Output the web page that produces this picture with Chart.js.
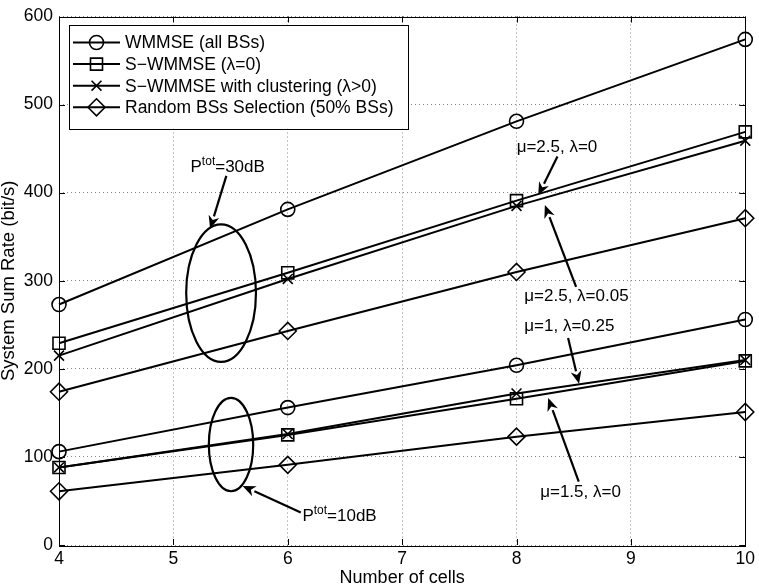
<!DOCTYPE html>
<html>
<head>
<meta charset="utf-8">
<script src="https://cdn.jsdelivr.net/npm/chart.js@4"></script>
<style>
  html, body { margin: 0; padding: 0; background: #fff; }
  #wrap { width: 759px; height: 588px; }
</style>
</head>
<body>
<div id="wrap"><canvas id="rateChart" width="759" height="588"></canvas></div>
<script>
// data
const cells = [4, 6, 8, 10];
const xTicks = [4, 5, 6, 7, 8, 9, 10];
const yTicks = [0, 100, 200, 300, 400, 500, 600];

const wmmse30 = [273, 381, 481, 574];
const swmmse30 = [229, 309, 391, 469];
const cluster30 = [215, 302, 385, 459];
const random30 = [174, 243, 310, 371];

const wmmse10 = [106, 156, 204, 256];
const swmmse10 = [88, 125, 166, 209];
const cluster10 = [88, 126, 172, 210];
const random10 = [61, 91, 123, 151];

const seriesNames = ['WMMSE (all BSs)', 'S\u2212WMMSE (\u03bb=0)', 'S\u2212WMMSE with clustering (\u03bb>0)', 'Random BSs Selection (50% BSs)'];

const FONT = 'Liberation Sans, Arial, Helvetica, sans-serif';

const markers = [
    { style: 'circle', r: 7 },
    { style: 'rect', r: 8.5 },
    { style: 'crossRot', r: 7 },
    { style: 'rectRot', r: 8.5 }
];

function toPoints(vals) {
    return vals.map((v, i) => ({ x: cells[i], y: v }));
}

function makeSet(vals, k, withLabel) {
    return {
        label: withLabel ? seriesNames[k] : '',
        data: toPoints(vals),
        borderColor: '#000',
        borderWidth: 2,
        tension: 0,
        fill: false,
        clip: false,
        pointStyle: markers[k].style,
        pointRadius: markers[k].r,
        pointHoverRadius: markers[k].r,
        pointBorderColor: '#000',
        pointBackgroundColor: 'rgba(0,0,0,0)',
        pointBorderWidth: 1.6
    };
}

// annotation geometry in data units
const ellipses = [
    { cx: 5.417, cy: 286, rx: 0.305, ry: 78 },
    { cx: 5.504, cy: 114, rx: 0.194, ry: 53 }
];
const arrows = [
    { x1: 5.463, y1: 419, x2: 5.321, y2: 359 },
    { x1: 8.358, y1: 441, x2: 8.190, y2: 397 },
    { x1: 8.521, y1: 293, x2: 8.248, y2: 386 },
    { x1: 8.451, y1: 235, x2: 8.547, y2: 183 },
    { x1: 8.544, y1: 72, x2: 8.277, y2: 167 },
    { x1: 6.114, y1: 37, x2: 5.605, y2: 67 }
];
const notes = [
    { x: 8.001, y: 446.5, text: '\u03bc=2.5, \u03bb=0' },
    { x: 8.068, y: 277.3, text: '\u03bc=2.5, \u03bb=0.05' },
    { x: 8.068, y: 242.4, text: '\u03bc=1, \u03bb=0.25' },
    { x: 8.207, y: 54.6, text: '\u03bc=1.5, \u03bb=0' }
];
const powerNotes = [
    { x: 5.150, y: 423.2, rest: '=30dB' },
    { x: 6.128, y: 27.8, rest: '=10dB' }
];

function drawMarker(ctx, style, x, y, r) {
    ctx.beginPath();
    if (style === 'circle') {
        ctx.arc(x, y, r, 0, Math.PI * 2);
    } else if (style === 'rect') {
        const s = r * Math.SQRT1_2;
        ctx.rect(x - s, y - s, 2 * s, 2 * s);
    } else if (style === 'crossRot') {
        const s = r * Math.SQRT1_2;
        ctx.moveTo(x - s, y - s); ctx.lineTo(x + s, y + s);
        ctx.moveTo(x - s, y + s); ctx.lineTo(x + s, y - s);
    } else if (style === 'rectRot') {
        ctx.moveTo(x, y - r); ctx.lineTo(x + r, y); ctx.lineTo(x, y + r); ctx.lineTo(x - r, y); ctx.closePath();
    }
    ctx.stroke();
}

const matlabFrame = {
    id: 'matlabFrame',
    afterDatasetsDraw(chart) {
        const ctx = chart.ctx;
        const a = chart.chartArea;
        const xs = chart.scales.x, ys = chart.scales.y;
        ctx.save();
        ctx.strokeStyle = '#000';
        ctx.lineWidth = 1;
        // box
        ctx.strokeRect(Math.round(a.left) + 0.5, Math.round(a.top) + 0.5, Math.round(a.right - a.left), Math.round(a.bottom - a.top));
        // inward ticks on all sides
        const tl = 6;
        ctx.beginPath();
        xs.ticks.forEach(t => {
            const px = Math.round(xs.getPixelForValue(t.value)) + 0.5;
            ctx.moveTo(px, a.bottom); ctx.lineTo(px, a.bottom - tl);
            ctx.moveTo(px, a.top); ctx.lineTo(px, a.top + tl);
        });
        ys.ticks.forEach(t => {
            const py = Math.round(ys.getPixelForValue(t.value)) + 0.5;
            ctx.moveTo(a.left, py); ctx.lineTo(a.left + tl, py);
            ctx.moveTo(a.right, py); ctx.lineTo(a.right - tl, py);
        });
        ctx.stroke();

        // ellipses
        ctx.lineWidth = 2.2;
        ellipses.forEach(e => {
            const cx = xs.getPixelForValue(e.cx), cy = ys.getPixelForValue(e.cy);
            const rx = Math.abs(xs.getPixelForValue(e.cx + e.rx) - cx);
            const ry = Math.abs(ys.getPixelForValue(e.cy + e.ry) - cy);
            ctx.beginPath();
            ctx.ellipse(cx, cy, rx, ry, 0, 0, Math.PI * 2);
            ctx.stroke();
        });

        // arrows
        ctx.fillStyle = '#000';
        arrows.forEach(ar => {
            const x1 = xs.getPixelForValue(ar.x1), y1 = ys.getPixelForValue(ar.y1);
            const x2 = xs.getPixelForValue(ar.x2), y2 = ys.getPixelForValue(ar.y2);
            const ang = Math.atan2(y2 - y1, x2 - x1);
            const hl = 13, hw = 5.5;
            const bx = x2 - hl * Math.cos(ang), by = y2 - hl * Math.sin(ang);
            ctx.lineWidth = 2.2;
            ctx.beginPath();
            ctx.moveTo(x1, y1); ctx.lineTo(bx, by);
            ctx.stroke();
            ctx.beginPath();
            ctx.moveTo(x2, y2);
            ctx.lineTo(bx + hw * Math.sin(ang), by - hw * Math.cos(ang));
            ctx.lineTo(x2 - (hl * 0.7) * Math.cos(ang), y2 - (hl * 0.7) * Math.sin(ang));
            ctx.lineTo(bx - hw * Math.sin(ang), by + hw * Math.cos(ang));
            ctx.closePath();
            ctx.fill();
        });

        // text notes
        ctx.textBaseline = 'alphabetic';
        ctx.textAlign = 'left';
        ctx.font = '17px ' + FONT;
        notes.forEach(n => {
            ctx.fillText(n.text, xs.getPixelForValue(n.x), ys.getPixelForValue(n.y));
        });
        powerNotes.forEach(n => {
            let x = xs.getPixelForValue(n.x);
            const y = ys.getPixelForValue(n.y);
            ctx.font = '17px ' + FONT;
            ctx.fillText('P', x, y);
            x += ctx.measureText('P').width;
            ctx.font = '12px ' + FONT;
            ctx.fillText('tot', x, y - 7);
            x += ctx.measureText('tot').width;
            ctx.font = '17px ' + FONT;
            ctx.fillText(n.rest, x, y);
        });

        // legend box
        const lx = a.left + 10, ly = a.top + 8, lw = 339, lh = 104;
        ctx.fillStyle = '#fff';
        ctx.fillRect(lx, ly, lw, lh);
        ctx.lineWidth = 1;
        ctx.strokeRect(Math.round(lx) + 0.5, Math.round(ly) + 0.5, lw, lh);
        ctx.fillStyle = '#000';
        ctx.font = '17.5px ' + FONT;
        ctx.textBaseline = 'middle';
        seriesNames.forEach((name, k) => {
            const ry = ly + 18 + k * 21.6;
            ctx.lineWidth = 2;
            ctx.beginPath();
            ctx.moveTo(lx + 4, ry); ctx.lineTo(lx + 51, ry);
            ctx.stroke();
            ctx.lineWidth = 1.6;
            drawMarker(ctx, markers[k].style, lx + 27.5, ry, markers[k].r);
            ctx.fillText(name, lx + 56, ry + 1);
        });
        ctx.restore();
    }
};

new Chart(document.getElementById('rateChart'), {
    type: 'line',
    data: {
        datasets: [
            makeSet(wmmse30, 0, true),
            makeSet(swmmse30, 1, true),
            makeSet(cluster30, 2, true),
            makeSet(random30, 3, true),
            makeSet(wmmse10, 0, false),
            makeSet(swmmse10, 1, false),
            makeSet(cluster10, 2, false),
            makeSet(random10, 3, false)
        ]
    },
    options: {
        responsive: false,
        animation: false,
        events: [],
        layout: { padding: { left: 0, top: 6, right: 11, bottom: 0 } },
        plugins: {
            legend: { display: false },
            tooltip: { enabled: false }
        },
        scales: {
            x: {
                type: 'linear',
                min: 4,
                max: 10,
                afterBuildTicks: s => { s.ticks = xTicks.map(v => ({ value: v })); },
                afterFit: s => { s.height = 43; },
                grid: { color: '#8a8a8a', lineWidth: 1, drawTicks: false },
                border: { display: false, dash: [1, 3] },
                ticks: { color: '#000', padding: 4, maxRotation: 0, font: { family: FONT, size: 17.5 } },
                title: { display: true, text: 'Number of cells', color: '#000', padding: 0, font: { family: FONT, size: 18, lineHeight: 1.1 } }
            },
            y: {
                type: 'linear',
                min: 0,
                max: 600,
                afterBuildTicks: s => { s.ticks = yTicks.map(v => ({ value: v })); },
                afterFit: s => { s.width = 59; },
                grid: { color: '#8a8a8a', lineWidth: 1, drawTicks: false },
                border: { display: false, dash: [1, 3] },
                ticks: { color: '#000', padding: 6, font: { family: FONT, size: 17.5 } },
                title: { display: true, text: 'System Sum Rate (bit/s)', color: '#000', padding: 0, font: { family: FONT, size: 18.5, lineHeight: 1 } }
            }
        }
    },
    plugins: [matlabFrame]
});
</script>
</body>
</html>
